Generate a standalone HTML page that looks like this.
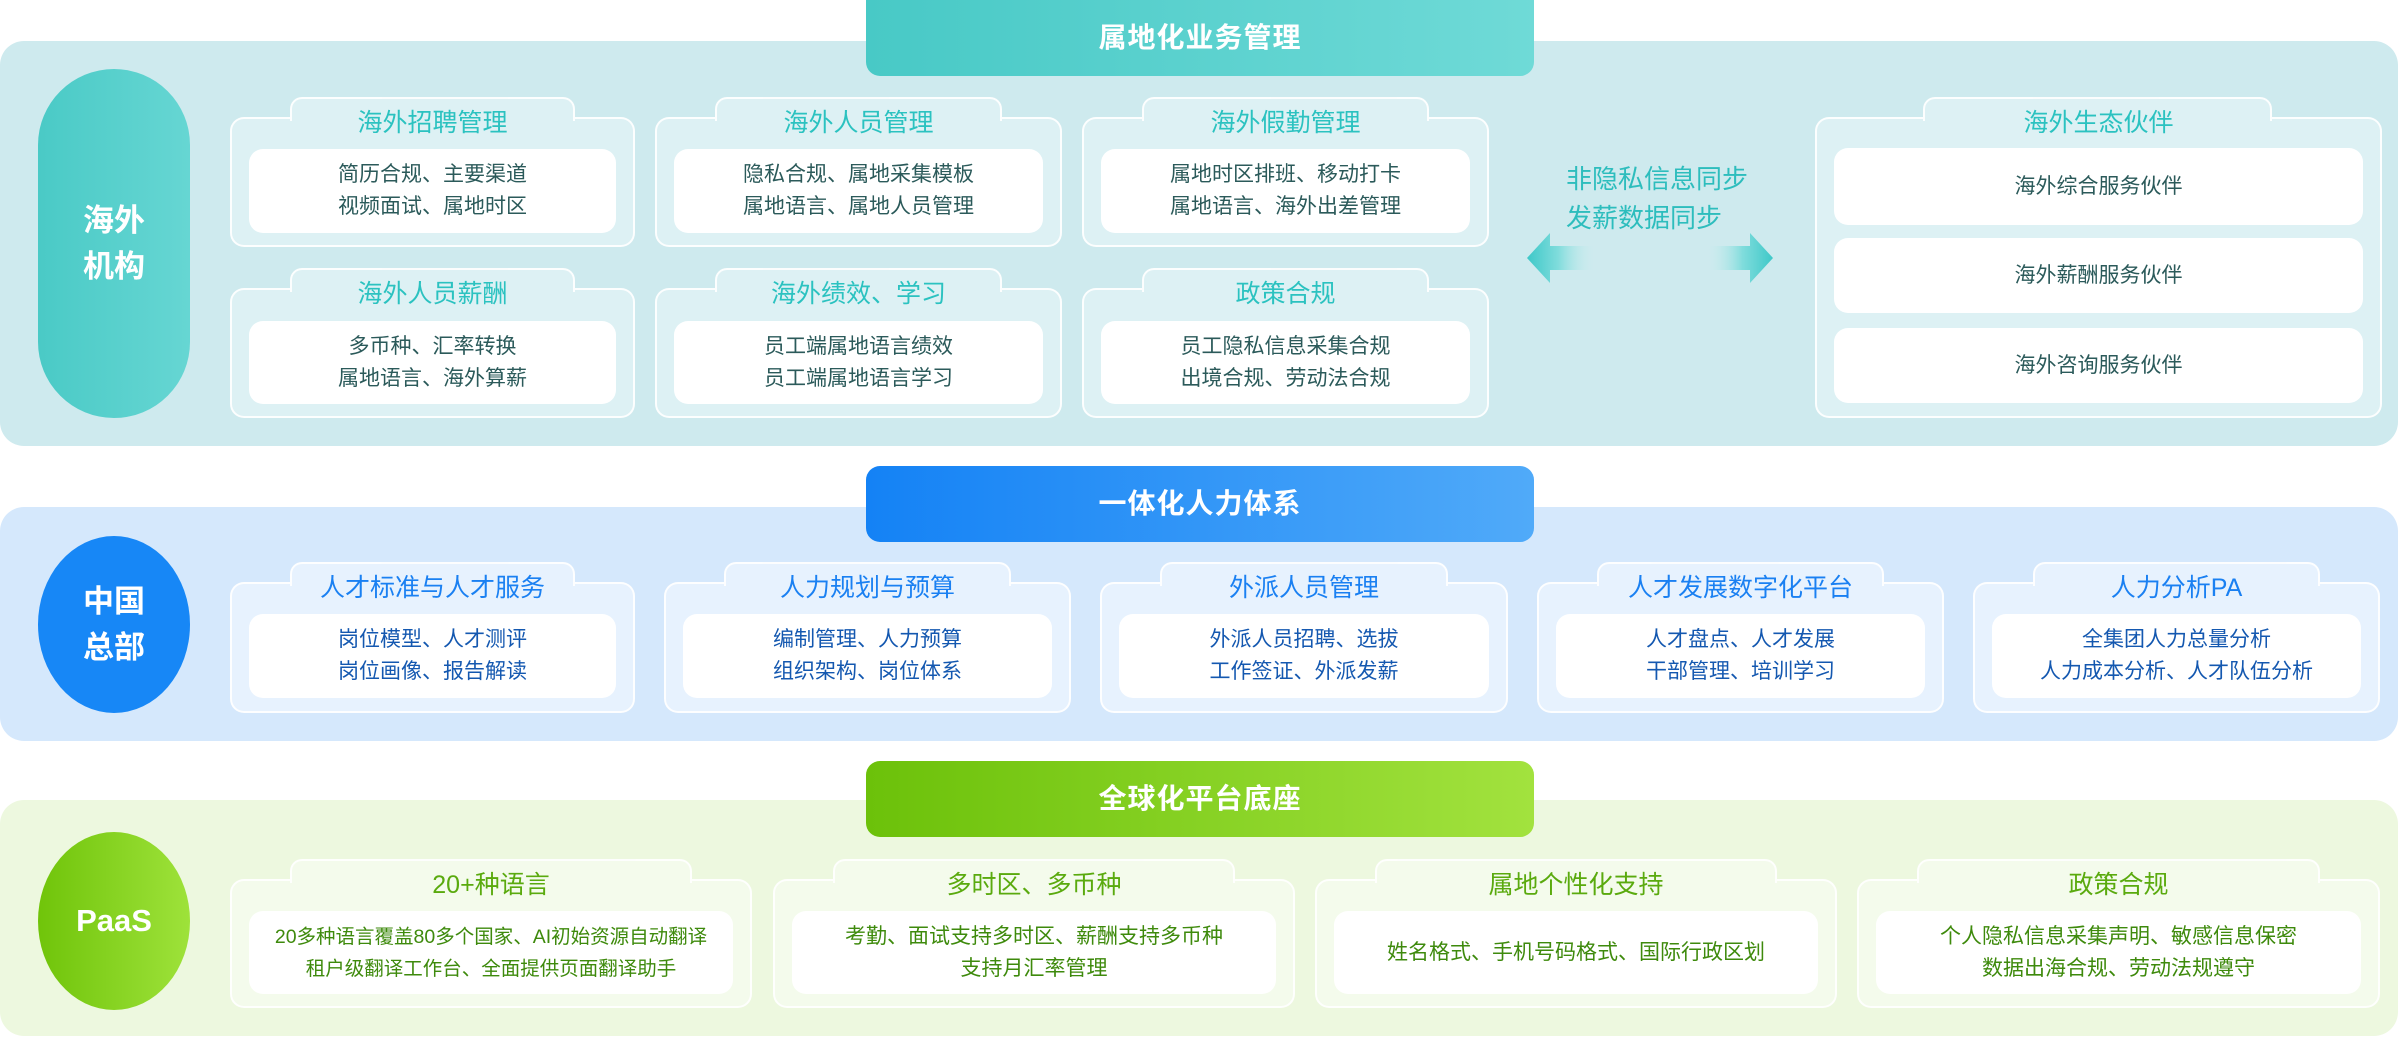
<!DOCTYPE html>
<html><head><meta charset="utf-8">
<style>
*{box-sizing:border-box;margin:0;padding:0}
body{width:2400px;height:1040px;background:#fff;position:relative;overflow:hidden;font-family:"Liberation Sans","Noto Sans CJK SC",sans-serif}
.abs{position:absolute}
.panel{position:absolute;left:0;width:2398px;border-radius:24px}
.hdr{position:absolute;left:866px;width:668px;height:76px;border-radius:14px;color:#fff;font-size:28px;font-weight:bold;text-align:center;line-height:76px;letter-spacing:1px}
.pill{position:absolute;left:38px;width:152px;color:#fff;font-weight:bold;font-size:31px;display:flex;align-items:center;justify-content:center;text-align:center;line-height:46px}
.card{position:absolute;border:2px solid rgba(255,255,255,.9);border-radius:14px}
.tab{position:absolute;top:-22px;left:58px;right:58px;height:24px;border:2px solid rgba(255,255,255,.9);border-bottom:none;border-radius:12px 12px 0 0;z-index:1}
.ttl{position:absolute;left:0;right:0;top:-14px;height:36px;line-height:36px;text-align:center;font-size:25px;z-index:2}
.in{position:absolute;left:17px;right:17px;background:#fff;border-radius:14px;display:flex;align-items:center;justify-content:center;text-align:center;font-size:21px;line-height:32px}
.s1 .card,.s1 .tab{background:#ddf1f4}
.s1 .ttl{color:#2bc2c0}.s1 .in{color:#2b5a5a}
.s2 .card,.s2 .tab{background:#e7f2fe}
.s2 .ttl{color:#1a80f2}.s2 .in{color:#1458b0}
.s3 .card,.s3 .tab{background:#f4fbec}
.s3 .ttl{color:#5aaa0e}.s3 .in{color:#3e8a0c}
</style></head><body>

<!-- Section 1 -->
<div class="panel" style="top:41px;height:405px;background:#ceeaee"></div>
<div class="hdr" style="top:0;background:linear-gradient(90deg,#48c9c6,#6fdad7);border-radius:0 0 14px 14px">属地化业务管理</div>
<div class="pill" style="top:69px;height:349px;border-radius:76px;background:linear-gradient(90deg,#4acac6,#66d6d3)">海外<br>机构</div>
<div class="s1">
 <div class="card" style="left:230px;top:117px;width:405px;height:130px"><div class="tab"></div><div class="ttl">海外招聘管理</div><div class="in" style="top:30px;height:84px">简历合规、主要渠道<br>视频面试、属地时区</div></div>
 <div class="card" style="left:655px;top:117px;width:407px;height:130px"><div class="tab"></div><div class="ttl">海外人员管理</div><div class="in" style="top:30px;height:84px">隐私合规、属地采集模板<br>属地语言、属地人员管理</div></div>
 <div class="card" style="left:1082px;top:117px;width:407px;height:130px"><div class="tab"></div><div class="ttl">海外假勤管理</div><div class="in" style="top:30px;height:84px">属地时区排班、移动打卡<br>属地语言、海外出差管理</div></div>
 <div class="card" style="left:230px;top:288px;width:405px;height:130px"><div class="tab"></div><div class="ttl">海外人员薪酬</div><div class="in" style="top:31px;height:83px">多币种、汇率转换<br>属地语言、海外算薪</div></div>
 <div class="card" style="left:655px;top:288px;width:407px;height:130px"><div class="tab"></div><div class="ttl">海外绩效、学习</div><div class="in" style="top:31px;height:83px">员工端属地语言绩效<br>员工端属地语言学习</div></div>
 <div class="card" style="left:1082px;top:288px;width:407px;height:130px"><div class="tab"></div><div class="ttl">政策合规</div><div class="in" style="top:31px;height:83px">员工隐私信息采集合规<br>出境合规、劳动法合规</div></div>
 <div class="card" style="left:1815px;top:117px;width:567px;height:301px"><div class="tab" style="left:106px;right:108px"></div><div class="ttl">海外生态伙伴</div>
  <div class="in" style="top:29px;height:77px">海外综合服务伙伴</div>
  <div class="in" style="top:119px;height:75px">海外薪酬服务伙伴</div>
  <div class="in" style="top:209px;height:75px">海外咨询服务伙伴</div>
 </div>
</div>
<div class="abs" style="left:1566px;top:160px;width:200px;line-height:39px;font-size:26px;color:#2dbdbd">非隐私信息同步<br>发薪数据同步</div>
<svg class="abs" style="left:1520px;top:228px" width="260" height="60">
 <defs>
  <linearGradient id="gl" x1="0" x2="1"><stop offset="0" stop-color="#3ec8c8"/><stop offset="0.45" stop-color="#7fdcdc"/><stop offset="1" stop-color="#cfeeef" stop-opacity="0"/></linearGradient>
  <linearGradient id="gr" x1="1" x2="0"><stop offset="0" stop-color="#3ec8c8"/><stop offset="0.45" stop-color="#7fdcdc"/><stop offset="1" stop-color="#cfeeef" stop-opacity="0"/></linearGradient>
 </defs>
 <path d="M7 30 L30 5 L30 18 L76 18 L76 42 L30 42 L30 55 Z" fill="url(#gl)"/>
 <path d="M253 30 L230 5 L230 18 L186 18 L186 42 L230 42 L230 55 Z" fill="url(#gr)"/>
</svg>

<!-- Section 2 -->
<div class="panel" style="top:507px;height:234px;background:#d5e8fc"></div>
<div class="hdr" style="top:466px;background:linear-gradient(90deg,#1482f5,#50aaf9)">一体化人力体系</div>
<div class="pill" style="top:536px;height:177px;border-radius:50%;background:#1787f6">中国<br>总部</div>
<div class="s2">
 <div class="card" style="left:230px;top:582px;width:405px;height:131px"><div class="tab"></div><div class="ttl">人才标准与人才服务</div><div class="in" style="top:30px;height:84px">岗位模型、人才测评<br>岗位画像、报告解读</div></div>
 <div class="card" style="left:664px;top:582px;width:407px;height:131px"><div class="tab"></div><div class="ttl">人力规划与预算</div><div class="in" style="top:30px;height:84px">编制管理、人力预算<br>组织架构、岗位体系</div></div>
 <div class="card" style="left:1100px;top:582px;width:408px;height:131px"><div class="tab"></div><div class="ttl">外派人员管理</div><div class="in" style="top:30px;height:84px">外派人员招聘、选拔<br>工作签证、外派发薪</div></div>
 <div class="card" style="left:1537px;top:582px;width:407px;height:131px"><div class="tab"></div><div class="ttl">人才发展数字化平台</div><div class="in" style="top:30px;height:84px">人才盘点、人才发展<br>干部管理、培训学习</div></div>
 <div class="card" style="left:1973px;top:582px;width:407px;height:131px"><div class="tab"></div><div class="ttl">人力分析PA</div><div class="in" style="top:30px;height:84px">全集团人力总量分析<br>人力成本分析、人才队伍分析</div></div>
</div>

<!-- Section 3 -->
<div class="panel" style="top:800px;height:236px;background:#edf8df"></div>
<div class="hdr" style="top:761px;background:linear-gradient(90deg,#6cc10a,#a2e23e)">全球化平台底座</div>
<div class="pill" style="top:832px;height:178px;border-radius:50%;background:linear-gradient(90deg,#70c40a,#9ee23a)">PaaS</div>
<div class="s3">
 <div class="card" style="left:230px;top:879px;width:522px;height:129px"><div class="tab"></div><div class="ttl">20+种语言</div><div class="in" style="top:30px;height:83px;font-size:19.5px">20多种语言覆盖80多个国家、AI初始资源自动翻译<br>租户级翻译工作台、全面提供页面翻译助手</div></div>
 <div class="card" style="left:773px;top:879px;width:522px;height:129px"><div class="tab"></div><div class="ttl">多时区、多币种</div><div class="in" style="top:30px;height:83px">考勤、面试支持多时区、薪酬支持多币种<br>支持月汇率管理</div></div>
 <div class="card" style="left:1315px;top:879px;width:522px;height:129px"><div class="tab"></div><div class="ttl">属地个性化支持</div><div class="in" style="top:30px;height:83px">姓名格式、手机号码格式、国际行政区划</div></div>
 <div class="card" style="left:1857px;top:879px;width:523px;height:129px"><div class="tab"></div><div class="ttl">政策合规</div><div class="in" style="top:30px;height:83px">个人隐私信息采集声明、敏感信息保密<br>数据出海合规、劳动法规遵守</div></div>
</div>
</body></html>
